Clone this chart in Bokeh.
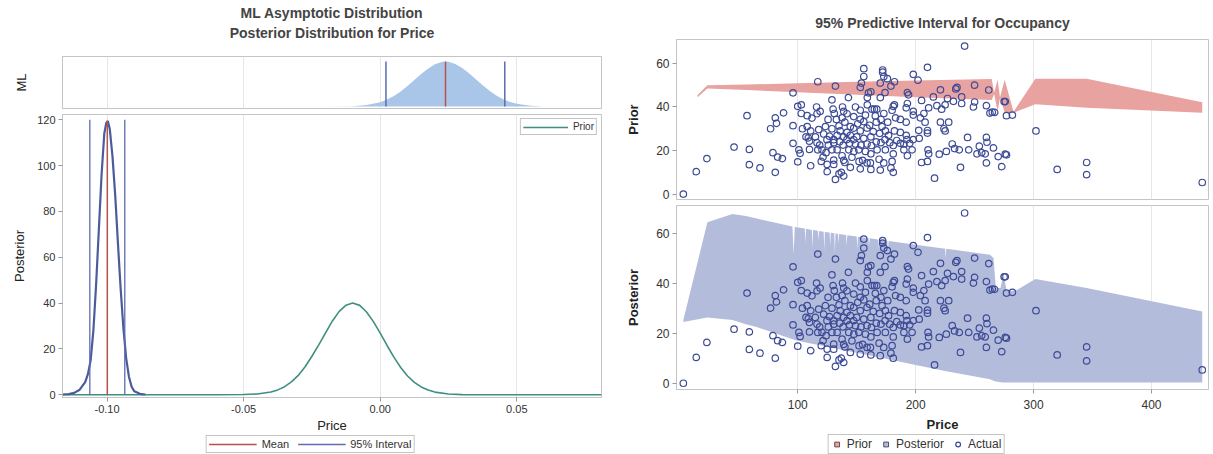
from bokeh.plotting import figure
from bokeh.layouts import row, column
from bokeh.models import (Title, Legend, LegendItem, FixedTicker, Range1d,
                          NumeralTickFormatter)
from bokeh.embed import file_html
from bokeh.resources import INLINE

FONT = "Liberation Sans"
NAN = float("nan")

# ---------------- left panel data ----------------
ml_price = [-0.03, -0.02, -0.01, -0.005, 0.0, 0.0025, 0.005, 0.0075, 0.01, 0.0125,
            0.015, 0.0175, 0.02, 0.0225, 0.0239, 0.025, 0.0275, 0.03, 0.0325, 0.035,
            0.0375, 0.04, 0.0425, 0.045, 0.0475, 0.05, 0.055, 0.06, 0.07, 0.08]
ml_density = [0.0, 0.02, 0.35, 1.2, 3.55, 5.6, 8.45, 12.1, 16.5, 21.2,
              26.1, 30.3, 33.8, 35.7, 36.0, 35.8, 34.1, 30.8, 26.7, 21.8,
              17.0, 12.6, 8.8, 5.9, 3.75, 2.27, 0.71, 0.18, 0.01, 0.0]
ml_mean = 0.0239
ml_interval = [0.0021, 0.0456]
ml_peak = 36.0

post_price = [-0.1163, -0.114, -0.112, -0.110, -0.108, -0.107, -0.106, -0.105, -0.104,
              -0.103, -0.102, -0.101, -0.1003, -0.0997, -0.099, -0.098, -0.097, -0.096,
              -0.095, -0.094, -0.093, -0.092, -0.091, -0.090, -0.088, -0.086]
post_density = [0.1, 0.3, 0.8, 2.2, 5.5, 9.0, 15.0, 28.0, 48.0,
                72.0, 96.0, 114.0, 118.5, 119.5, 116.0, 104.0, 87.0, 66.0,
                46.0, 29.0, 16.0, 8.0, 3.5, 1.5, 0.4, 0.1]
post_mean = -0.0999
post_mean_height = 119.5
post_interval = [-0.1063, -0.0935]
post_interval_height = 120.0

prior_price = [-0.1163, -0.06, -0.05, -0.045, -0.04, -0.0375, -0.035, -0.0325, -0.03,
               -0.0275, -0.025, -0.0225, -0.02, -0.0175, -0.015, -0.0125, -0.0101,
               -0.0075, -0.005, -0.0025, 0.0, 0.0025, 0.005, 0.0075, 0.01, 0.0125,
               0.015, 0.0175, 0.02, 0.025, 0.03, 0.04, 0.081]
prior_density = [0.0, 0.0, 0.08, 0.34, 1.21, 2.12, 3.52, 5.61, 8.45,
                 12.2, 16.8, 21.8, 27.0, 32.2, 36.4, 39.1, 40.0,
                 39.0, 36.1, 31.9, 26.9, 21.5, 16.4, 11.9, 8.2, 5.4,
                 3.4, 2.03, 1.16, 0.32, 0.07, 0.0, 0.0]

left_x_ticks = [-0.10, -0.05, 0.00, 0.05]
left_y_ticks = [0, 20, 40, 60, 80, 100, 120]

# ---------------- right panel data ----------------
actual_price = [
    3, 14, 23, 46, 57, 59, 59, 68, 77, 79, 81, 82, 81, 83, 87, 88, 96, 96, 96, 100,
    100, 103, 103, 108, 101, 102, 104, 108, 107, 109, 110, 111, 111, 110,
    241.5, 210, 156, 156, 172, 172, 173, 198, 202, 117, 132, 154, 153, 170, 176, 182,
    179, 250, 262, 234, 235, 221, 193, 194, 162, 160, 174, 129, 143, 159, 170, 215,
    205, 227, 239, 232, 239, 250, 249, 260, 265, 263, 182, 181, 193, 192, 218, 222,
    225, 211, 198, 204, 116, 119, 130, 131, 138, 139, 149, 153, 159, 163, 165, 167,
    173, 180, 183, 187, 192, 198, 207, 208, 221, 228, 224, 225, 210, 210, 202.6, 203,
    198, 192.6, 195, 192, 187, 182, 177, 174, 178, 181, 184, 187, 190, 244, 260,
    260.5, 254, 256, 259, 252, 245, 237, 231, 233, 226, 220, 238, 260, 216, 211,
    210, 205, 210.5, 197, 193, 190, 181, 179, 181, 180, 170, 169, 162, 162, 153,
    152, 155, 146, 147.6, 139, 140, 137.6, 137, 135, 132, 139, 125, 125, 130.5, 120,
    121.5, 124, 117, 118.6, 126, 130.5, 135.6, 138.5, 144, 149, 153.6, 158.8, 162.5,
    166.6, 170.6, 162, 156, 150, 144.6, 139, 133.4, 127, 122, 115, 117.8, 123.5, 129,
    135, 140, 144.6, 150.9, 156, 161, 166.6, 171.5, 176.3, 132.8, 137.6, 141.8, 147.5,
    153, 157.4, 165.8, 170.6, 125.7, 116.4, 112.1, 147.5, 153, 158.8, 164, 169.5,
    174.3, 141.8, 136, 147.5, 141.8, 130.5, 124.8, 116.4, 120.6, 129, 133.4, 143.3,
    151.8, 157.4, 167.3, 174.3, 161.6, 172.9, 130.5, 144.6, 158.8,
    267, 275, 276, 277, 282, 302, 266, 270, 276, 277, 273, 320, 345, 345, 443]
actual_occupancy = [
    0, 10.3, 16.3, 21.6, 36, 20.5, 13.5, 12, 30, 19, 35, 32.5, 10, 17, 16.3, 37.3, 46.5, 31.4, 23.3, 14.8,
    40.3, 41, 37, 36, 20.3, 18.7, 30, 31, 26.3, 25.8, 20.5, 13, 29, 24.3,
    68, 58.2, 57.6, 54, 57, 56, 54, 55, 52.3, 51.6, 49.6, 51, 49, 51, 53, 51.6,
    49.6, 50, 47.8, 48.3, 49, 47.9, 46.6, 45.6, 47, 46.5, 46.6, 43.3, 44.3, 44.3, 44.3, 44.6,
    43, 43.9, 44.6, 42.6, 41.6, 42.3, 40, 40.6, 37.6, 37.2, 41, 40.3, 41.6, 39.6, 40.6, 39,
    41, 39.6, 38, 35, 40, 38, 39, 37, 40, 38, 40, 38.5, 41, 39, 39, 39,
    37, 38.5, 35, 34.3, 33, 36.3, 37, 33, 33, 33, 30, 29, 29.2, 28, 29.3, 25.6,
    25, 25, 23.3, 27, 28.3, 29, 27, 25, 23.6, 22.3, 24.6, 23.3, 23, 26, 26,
    23.8, 22, 19, 18.5, 18.5, 20.3, 20.3, 23, 20.9, 19.6, 18.3, 12.3, 14.3, 7.3, 18.5,
    15, 14.5, 20.3, 20.3, 17.6, 20.3, 18.5, 12, 10, 15, 11, 16, 18.5, 11.3, 11.6,
    15, 15.5, 16.9, 19.6, 15.5, 14.5, 17.6, 10, 9.3, 6.7, 8.3, 10.3, 13.6, 15.6, 15,
    17, 19, 20.3, 22.5, 22.5, 23.6, 24, 22.5, 23.3, 23, 22.5, 23, 22.3,
    24, 23.6, 26.3, 25.6, 26.3, 27, 26.3, 27, 26.6, 27.6, 26.3, 29.6, 31, 30,
    31.3, 33, 31, 32.3, 33.3, 31.6, 33, 31, 33, 34.3, 35, 36.9, 35.6,
    34.3, 36.3, 35.9, 34.3, 34.3, 36.9, 34.9, 30.3, 29, 30.3, 28.7, 27.9,
    29, 28.3, 29, 25, 25, 25, 25, 23.6, 20.3, 20.3, 20.3, 20.3,
    20.3, 19.6, 20.3, 20.3, 14.3, 14.3, 13.6, 12.3, 14.3,
    37.5, 42.5, 42.5, 36, 36.3, 29, 21.2, 17.2, 18.3, 18, 12.6, 11.3, 14.5, 8.9, 5.3]

prior_band_price = [15, 23.4, 57, 100, 150, 200, 264.5, 266.5, 269.5, 271.5, 275.5,
                    283, 301.5, 345, 443]
prior_band_lo = [44.5, 48.5, 47.8, 46.8, 45.6, 44.5, 43.2, 46.0, 38.0, 44.0, 37.5,
                 37.4, 41.2, 39.7, 37.4]
prior_band_hi = [45.5, 50.0, 50.3, 50.9, 51.6, 52.2, 52.8, 46.5, 52.5, 44.5, 52.5,
                 37.8, 53.0, 53.0, 42.2]

post_band_price = [3, 23.4, 44.7, 56, 64.4, 95.5, 96.5, 97.5, 106, 106.5, 107, 112,
                   112.5, 113, 117, 117.5, 118, 122, 122.5, 123, 127, 127.5, 128, 131,
                   131.5, 132, 134, 134.5, 135, 141, 141.5, 142, 150, 150.5, 151, 160,
                   160.5, 161, 168, 168.5, 169, 176, 176.5, 177, 200, 225, 225.5, 226,
                   263, 266, 268, 272, 274.5, 277, 284.5, 301.5, 345, 443]
post_band_lo = [24.5, 26.3, 25.3, 23.6, 22.6, 17.6, 17.5, 17.3, 16.4, 16.4, 16.3, 15.8,
                15.8, 15.7, 15.4, 15.3, 15.3, 14.9, 14.8, 14.8, 14.4, 14.3, 14.3, 14.0,
                14.0, 13.9, 13.7, 13.7, 13.6, 13.0, 13.0, 12.9, 12.2, 12.1, 12.1, 11.2,
                11.2, 11.1, 10.4, 10.4, 10.3, 9.7, 9.6, 9.6, 7.3, 4.9, 4.8, 4.8,
                1.6, 1.0, 0.7, 0.4, 0.3, 0.3, 0.3, 0.3, 0.3, 0.3]
post_band_hi = [25.3, 64.3, 67.6, 66.8, 65.9, 62.6, 51.6, 62.4, 61.8, 56.0, 61.7, 61.2,
                54.0, 61.2, 60.9, 57.0, 60.8, 60.5, 53.0, 60.4, 60.2, 55.0, 60.1, 59.9,
                52.0, 59.8, 59.7, 56.0, 59.6, 59.2, 55.0, 59.1, 58.6, 53.5, 58.5, 57.9,
                55.0, 57.9, 57.4, 54.0, 57.4, 56.9, 53.0, 56.8, 55.3, 53.7, 50.0, 53.7,
                51.3, 50.0, 38.0, 38.0, 44.0, 37.0, 36.9, 41.6, 38.0, 28.7]

right_x_ticks = [100, 200, 300, 400]
right_y_ticks = [0, 20, 40, 60]

# ---------------- styles ----------------
OUTLINE = "#c4c4c4"
GRID = "#e6e6e6"
TXT = "#333333"
ML_FILL = "#a9c5e8"
MEAN_C = "#b5524c"
INT_C = "#5b6cb2"
POST_C = "#4b5c9c"
PRIOR_C = "#3f8f80"
PRIOR_BAND = "#e8a3a0"
POST_BAND = "#b4bcdb"
PT_C = "#3d4b96"


def style(p, tick_size="11px"):
    p.outline_line_color = OUTLINE
    p.outline_line_width = 1
    p.background_fill_color = "white"
    p.border_fill_color = "white"
    p.ygrid.visible = False
    p.xgrid.grid_line_color = GRID
    for ax in p.axis:
        ax.axis_line_color = OUTLINE
        ax.major_tick_line_color = "#999999"
        ax.major_tick_out = 4
        ax.major_tick_in = 0
        ax.minor_tick_line_color = None
        ax.major_label_text_font = FONT
        ax.major_label_text_font_size = tick_size
        ax.major_label_text_color = TXT
        ax.major_label_standoff = 3
        ax.axis_label_text_font = FONT
        ax.axis_label_text_color = "#222222"
        ax.axis_label_text_font_style = "normal"


def legend_strip(width, height, left):
    p = figure(width=width, height=height, x_range=Range1d(0, 1), y_range=Range1d(0, 1),
               output_backend="svg", toolbar_location=None,
               min_border_left=left, min_border_right=0, min_border_top=0,
               min_border_bottom=0, x_axis_location=None, y_axis_location=None)
    p.outline_line_color = None
    p.border_fill_color = "white"
    for g in p.grid:
        g.visible = False
    return p


left_xr = Range1d(-0.1163, 0.081)

# ---- ML panel ----
p_ml = figure(width=606, height=111, x_range=left_xr, y_range=Range1d(-1.5, 40),
              output_backend="svg", toolbar_location=None,
              min_border_left=62, min_border_right=5, min_border_top=56, min_border_bottom=3)
style(p_ml)
p_ml.xaxis.visible = False
p_ml.xgrid.ticker = FixedTicker(ticks=left_x_ticks)
p_ml.yaxis.ticker = FixedTicker(ticks=[])
p_ml.yaxis.axis_label = "ML"
p_ml.yaxis.axis_label_text_font_size = "13px"
p_ml.yaxis.axis_label_standoff = 34
p_ml.yaxis.major_tick_out = 0
p_ml.varea(x=ml_price, y1=0, y2=ml_density, fill_color=ML_FILL, fill_alpha=1)
p_ml.segment(x0=ml_interval, y0=0, x1=ml_interval, y1=ml_peak, line_color=INT_C, line_width=1.5)
p_ml.segment(x0=[ml_mean], y0=0, x1=[ml_mean], y1=ml_peak, line_color=MEAN_C, line_width=1.5)
p_ml.add_layout(Title(text=" ", text_font_size="1px", standoff=12), "above")
p_ml.add_layout(Title(text="Posterior Distribution for Price", align="center",
                      text_font=FONT, text_font_size="14px", text_font_style="bold",
                      standoff=2), "above")
p_ml.add_layout(Title(text="ML Asymptotic Distribution", align="center",
                      text_font=FONT, text_font_size="14px", text_font_style="bold",
                      standoff=1), "above")

# ---- Posterior panel (left) ----
p_post = figure(width=606, height=324, x_range=left_xr, y_range=Range1d(-1.2, 122.3),
                output_backend="svg", toolbar_location=None,
                min_border_left=62, min_border_right=5, min_border_top=3, min_border_bottom=37)
style(p_post)
p_post.xaxis.ticker = FixedTicker(ticks=left_x_ticks)
p_post.xaxis.formatter = NumeralTickFormatter(format="0.00")
p_post.yaxis.ticker = FixedTicker(ticks=left_y_ticks)
p_post.xaxis.axis_label = "Price"
p_post.yaxis.axis_label = "Posterior"
p_post.xaxis.axis_label_text_font_size = "13px"
p_post.yaxis.axis_label_text_font_size = "13px"
p_post.xaxis.major_label_standoff = 3
p_post.xaxis.axis_label_standoff = 2
p_post.yaxis.axis_label_standoff = 7

r_prior = p_post.line(prior_price, prior_density, line_color=PRIOR_C, line_width=1.6)
p_post.line(post_price, post_density, line_color=POST_C, line_width=2.2)
p_post.segment(x0=post_interval, y0=0, x1=post_interval, y1=post_interval_height,
               line_color=INT_C, line_width=1.3)
p_post.segment(x0=[post_mean], y0=0, x1=[post_mean], y1=post_mean_height,
               line_color=MEAN_C, line_width=1.5)

leg_in = Legend(items=[LegendItem(label="Prior", renderers=[r_prior])],
                location="top_right", border_line_color=OUTLINE, border_line_alpha=1,
                background_fill_alpha=1,
                label_text_font=FONT, label_text_font_size="10px", label_text_color=TXT,
                glyph_width=45, glyph_height=10, label_height=10, padding=2, margin=4,
                spacing=0, label_standoff=5)
p_post.add_layout(leg_in)

# legend strip below the left panel (legend proxies hold one NaN point: nothing is drawn)
p_lgl = legend_strip(606, 19, 14)
px_mean = p_lgl.line(x=[NAN], y=[NAN], line_color=MEAN_C, line_width=1.5)
px_int = p_lgl.line(x=[NAN], y=[NAN], line_color=INT_C, line_width=1.5)
p_lgl.add_layout(Legend(items=[LegendItem(label="Mean", renderers=[px_mean]),
                               LegendItem(label="95% Interval", renderers=[px_int])],
                        orientation="horizontal", location="top_center",
                        border_line_color=OUTLINE, border_line_alpha=1,
                        label_text_font=FONT, label_text_font_size="11px",
                        label_text_color=TXT, glyph_width=48, glyph_height=10,
                        label_height=10, padding=2, margin=0, spacing=8, label_standoff=5))

# ---- Right panels ----
right_xr = Range1d(-2.8, 448.3)

p_pr = figure(width=607, height=202, x_range=right_xr, y_range=Range1d(-2.5, 71),
              output_backend="svg", toolbar_location=None,
              min_border_left=70, min_border_right=5, min_border_top=39, min_border_bottom=3)
style(p_pr, "12px")
p_pr.xaxis.visible = False
p_pr.xgrid.ticker = FixedTicker(ticks=right_x_ticks)
p_pr.yaxis.ticker = FixedTicker(ticks=right_y_ticks)
p_pr.yaxis.axis_label = "Prior"
p_pr.yaxis.axis_label_text_font_size = "13px"
p_pr.yaxis.axis_label_text_font_style = "bold"
p_pr.yaxis.axis_label_standoff = 12
p_pr.varea(x=prior_band_price, y1=prior_band_lo, y2=prior_band_hi,
           fill_color=PRIOR_BAND, fill_alpha=1)
p_pr.scatter(actual_price, actual_occupancy, marker="circle", size=6.5,
             fill_color=None, line_color=PT_C, line_width=1.2)
p_pr.add_layout(Title(text="95% Predictive Interval for Occupancy", align="center",
                      text_font=FONT, text_font_size="14px", text_font_style="bold",
                      standoff=17), "above")

p_po = figure(width=607, height=232, x_range=right_xr, y_range=Range1d(-2.5, 71),
              output_backend="svg", toolbar_location=None,
              min_border_left=70, min_border_right=5, min_border_top=3, min_border_bottom=45)
style(p_po, "12px")
p_po.xaxis.ticker = FixedTicker(ticks=right_x_ticks)
p_po.yaxis.ticker = FixedTicker(ticks=right_y_ticks)
p_po.xaxis.axis_label = "Price"
p_po.yaxis.axis_label = "Posterior"
for ax in (p_po.xaxis[0], p_po.yaxis[0]):
    ax.axis_label_text_font_size = "13px"
    ax.axis_label_text_font_style = "bold"
p_po.xaxis.major_label_standoff = 6
p_po.xaxis.axis_label_standoff = 5
p_po.yaxis.axis_label_standoff = 12
p_po.varea(x=post_band_price, y1=post_band_lo, y2=post_band_hi,
           fill_color=POST_BAND, fill_alpha=1)
p_po.scatter(actual_price, actual_occupancy, marker="circle", size=6.5,
             fill_color=None, line_color=PT_C, line_width=1.2)

# legend strip below the right panel (legend proxies hold one NaN point: nothing is drawn)
p_lgr = legend_strip(607, 20, 13)
lg_prior = p_lgr.scatter(x=[NAN], y=[NAN], marker="square", size=10, fill_color=PRIOR_BAND,
                         line_color="#6a4a4a", line_width=1)
lg_post = p_lgr.scatter(x=[NAN], y=[NAN], marker="square", size=10, fill_color=POST_BAND,
                        line_color="#4a4f6a", line_width=1)
lg_act = p_lgr.scatter(x=[NAN], y=[NAN], marker="circle", size=7, fill_color=None,
                       line_color=PT_C, line_width=1.2)
p_lgr.add_layout(Legend(items=[LegendItem(label="Prior", renderers=[lg_prior]),
                               LegendItem(label="Posterior", renderers=[lg_post]),
                               LegendItem(label="Actual", renderers=[lg_act])],
                        orientation="horizontal", location="top_center",
                        border_line_color=OUTLINE, border_line_alpha=1,
                        label_text_font=FONT, label_text_font_size="12px",
                        label_text_color=TXT, glyph_width=12, glyph_height=12,
                        label_height=12, padding=2, margin=0, spacing=8, label_standoff=4))

layout = row(column(p_ml, p_post, row(p_lgl)), column(p_pr, p_po, row(p_lgr)))
open("out.html", "w").write(file_html(layout, INLINE))
